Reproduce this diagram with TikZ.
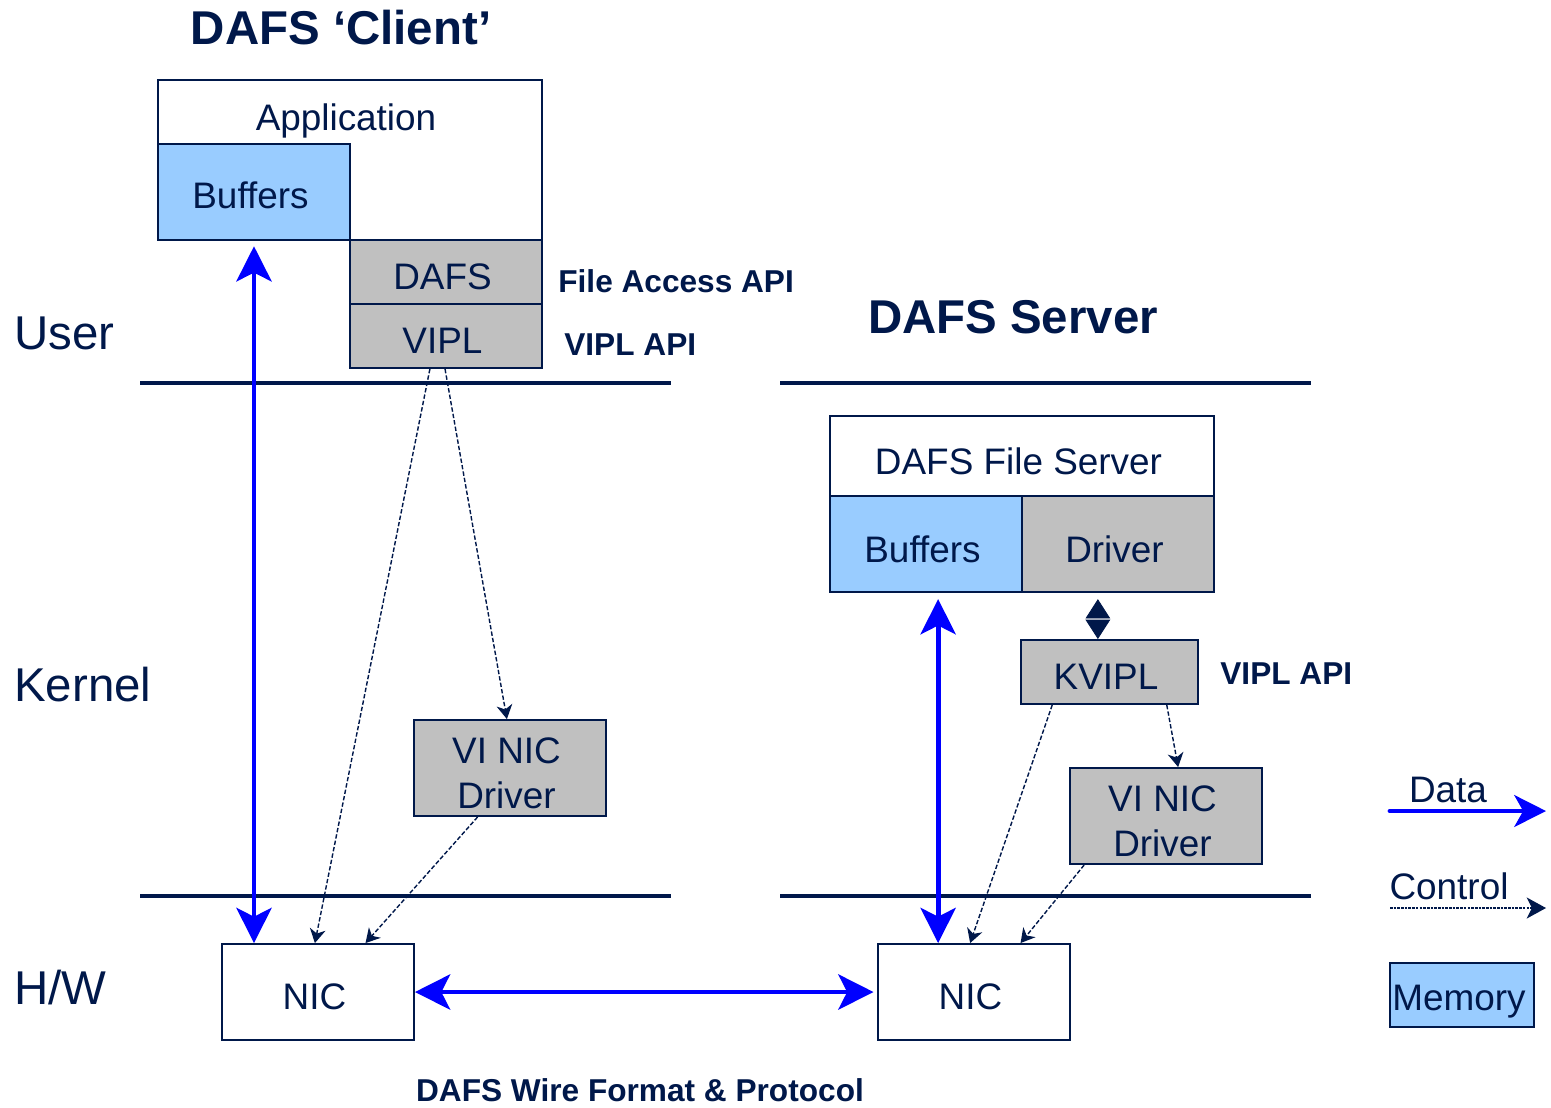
\documentclass[tikz,border=0pt]{standalone}
\usepackage{fontspec}
\setmainfont{Liberation Sans}
\usetikzlibrary{arrows.meta,fit,calc}
\definecolor{navy}{HTML}{00184A}
\definecolor{memblue}{HTML}{99CCFF}
\definecolor{layergrey}{HTML}{C0C0C0}
\definecolor{datablue}{HTML}{0000FF}
\begin{document}
\begin{tikzpicture}[x=0.02cm,y=-0.02cm,
  lbl/.style={text=navy, inner sep=0pt, align=center, font=\fontsize{21}{26}\selectfont},
  inbox/.style={lbl, xshift=-2pt, yshift=-3pt},
  box/.style={draw=navy, line width=1.1pt, inner sep=0pt},
  mem/.style={box, fill=memblue},
  layer/.style={box, fill=layergrey},
  plain/.style={box, fill=white},
  side/.style={text=navy, inner sep=0pt, anchor=west, font=\fontsize{27}{30}\selectfont},
  head/.style={text=navy, inner sep=0pt, font=\bfseries\fontsize{27}{30}\selectfont},
  api/.style={text=navy, inner sep=0pt, anchor=west, font=\bfseries\fontsize{18}{22}\selectfont},
  rule/.style={navy, line width=2.8pt},
  data/.style={datablue, line width=2.8pt,
    {Stealth[length=20pt,width=20pt,inset=5pt]}-{Stealth[length=20pt,width=20pt,inset=5pt]}},
  ctrl/.style={navy, line width=0.8pt, dash pattern=on 2.5pt off 1.2pt,
    -{Stealth[length=8pt,width=9pt,inset=2.5pt]}},
]
\useasboundingbox (0,0) rectangle (1551,1107);
\fill[white] (0,0) rectangle (1551,1107);

% layer separators
\draw[rule] (140,383) -- (671,383);
\draw[rule] (780,383) -- (1311,383);
\draw[rule] (140,896) -- (671,896);
\draw[rule] (780,896) -- (1311,896);

% client stack
\node[plain, fit={(158,80) (542,240)}] (app) {};
\node[lbl] (apptxt) at (346,121) {Application};
\node[mem, fit={(158,144) (350,240)}, label={[inbox, yshift=1pt]center:Buffers}] (cbuf) {};
\node[layer, fit={(350,240) (542,304)}, label={[inbox]center:DAFS}] (dafs) {};
\node[layer, fit={(350,304) (542,368)}, label={[inbox]center:VIPL}] (vipl) {};
\node[layer, fit={(414,720) (606,816)}, label={[inbox]center:VI NIC\\Driver}] (cdrv) {};
\node[plain, fit={(222,944) (414,1040)}, label={[inbox]center:NIC}] (cnic) {};

% server stack
\node[plain, fit={(830,416) (1214,496)}, label={[inbox]center:DAFS File Server}] (dfs) {};
\node[mem, fit={(830,496) (1022,592)}, label={[inbox]center:Buffers}] (sbuf) {};
\node[layer, fit={(1022,496) (1214,592)}, label={[inbox]center:Driver}] (drv) {};
\node[layer, fit={(1021,640) (1198,704)}, label={[inbox]center:KVIPL}] (kvipl) {};
\node[layer, fit={(1070,768) (1262,864)}, label={[inbox]center:VI NIC\\Driver}] (sdrv) {};
\node[plain, fit={(878,944) (1070,1040)}, label={[inbox]center:NIC}] (snic) {};

% headings and labels
\node[head] (ctitle) at (341,28) {DAFS ‘Client’};
\node[head] (stitle) at (1013,317) {DAFS Server};
\node[side] (user) at (14,333) {User};
\node[side] (kernel) at (14,685) {Kernel};
\node[side] (hw) at (14,988) {H/W};
\node[api] (faapi) at (558,281) {File Access API};
\node[api] (capi) at (564,345) {VIPL API};
\node[api] (sapi) at (1220,674) {VIPL API};
\node[head, font=\bfseries\fontsize{18}{22}\selectfont] (wire) at (640,1090) {DAFS Wire Format \& Protocol};

% data paths
\draw[data, shorten <=3pt] (cbuf.south) -- (cbuf.south |- cnic.north);
\coordinate (sbx) at ($(sbuf.south west)!0.5625!(sbuf.south east)$);
\draw[data, shorten <=3.5pt] (sbx) -- (sbx |- snic.north);
\draw[data, shorten >=2pt] (cnic.east) -- (snic.west);

% driver to KVIPL
\coordinate (kx) at ($(kvipl.north west)!0.435!(kvipl.north east)$);
\draw[white, line width=0.5pt,
  {Triangle[length=11pt,width=14pt,color=navy]}-{Triangle[length=11pt,width=14pt,color=navy]},
  shorten <=3.5pt] (kx |- drv.south) -- (kx);

% control paths
\draw[ctrl] ($(vipl.south west)!0.417!(vipl.south east)$) -- ($(cnic.north west)!0.484!(cnic.north east)$);
\draw[ctrl] ($(vipl.south west)!0.495!(vipl.south east)$) -- ($(cdrv.north west)!0.484!(cdrv.north east)$);
\draw[ctrl] ($(cdrv.south west)!0.333!(cdrv.south east)$) -- ($(cnic.north west)!0.745!(cnic.north east)$);
\draw[ctrl] ($(kvipl.south west)!0.18!(kvipl.south east)$) -- ($(snic.north west)!0.48!(snic.north east)$);
\draw[ctrl] ($(kvipl.south west)!0.82!(kvipl.south east)$) -- ($(sdrv.north west)!0.5625!(sdrv.north east)$);
\draw[ctrl] ($(sdrv.south west)!0.078!(sdrv.south east)$) -- ($(snic.north west)!0.74!(snic.north east)$);

% legend
\node[lbl] (ldata) at (1448,790) {Data};
\coordinate (d1) at (1390,811);
\coordinate (d2) at (1546,811);
\draw[datablue, line width=2.8pt, line cap=round,
  -{Stealth[length=18pt,width=18pt,inset=5pt]}] (d1) -- (d2);
\node[lbl] (lctrl) at (1449,886) {Control};
\coordinate (c1) at (1390,908);
\coordinate (c2) at (1546,908);
\draw[navy, line width=0.8pt, dash pattern=on 1.5pt off 0.6pt,
  -{Stealth[length=11pt,width=12pt,inset=3pt]}] (c1) -- (c2);
\node[mem, fit={(1390,963) (1534,1027)}] (lmem) {};
\node[lbl] (lmemtxt) at (1459,1002) {Memory};
\end{tikzpicture}
\end{document}
